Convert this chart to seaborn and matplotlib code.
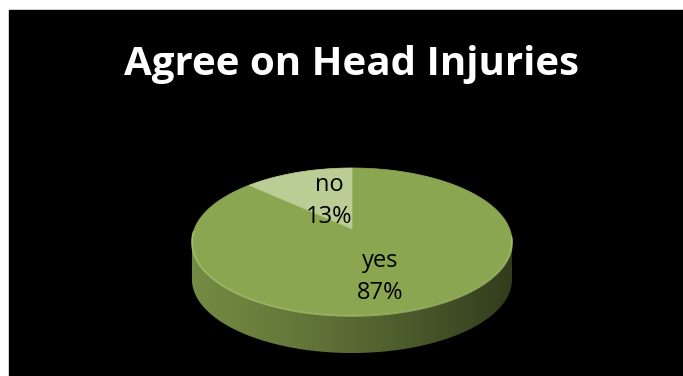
import numpy as np
import matplotlib
matplotlib.use("Agg")
import matplotlib.pyplot as plt
from matplotlib.patches import Polygon, Rectangle
from matplotlib.colors import to_rgb, LinearSegmentedColormap
import seaborn as sns

# Survey answers
categories = ["yes", "no"]
values = [87, 13]
slice_colors = ["#8aa650", "#bacd95"]
title = "Agree on Head Injuries"

sns.set_theme(style="white")
plt.rcParams["font.family"] = ["Open Sans", "DejaVu Sans"]

W, H = 683, 376
fig = plt.figure(figsize=(W / 100, H / 100), dpi=100, facecolor="white")
ax = fig.add_axes([0, 0, 1, 1])

# black panel
ax.add_patch(Rectangle((9, 10), W - 9, H - 10, color="black", zorder=0))

# 3-D disc geometry (pixel space, perspective tilt k)
cx, cy = 352.0, 229.0
A, B, k = 157.7, 71.4, 0.17
depth = 38.0


def project(theta_deg, r=1.0):
    t = np.radians(theta_deg)
    u = r * np.cos(t)
    v = -r * np.sin(t)
    w = 1.0 - k * v
    return cx + A * u / w, cy + B * v / w


fracs = np.array(values, dtype=float) / np.sum(values)
starts = 90.0 - 360.0 * np.concatenate([[0.0], np.cumsum(fracs)[:-1]])
ends = starts - 360.0 * fracs

# visible front band of the side wall
a = np.degrees(np.arcsin(k))
front_lo, front_hi = 180.0 + a, 360.0 - a

for s, e, col in zip(starts, ends, slice_colors):
    lo, hi = min(s, e), max(s, e)
    # bring the slice range into [0, 360) windows and intersect with the front
    for off in (-360.0, 0.0, 360.0):
        l2, h2 = max(lo + off, front_lo), min(hi + off, front_hi)
        if h2 <= l2:
            continue
        th = np.linspace(l2, h2, 200)
        xt, yt = project(th)
        xs = np.concatenate([xt, xt[::-1]])
        ys = np.concatenate([yt, (yt + depth)[::-1]])
        side = Polygon(np.column_stack([xs, ys]), closed=True,
                       facecolor="none", edgecolor="none", zorder=2)
        ax.add_patch(side)
        base = np.array(to_rgb(col))
        cmap = LinearSegmentedColormap.from_list(
            "wall", [base * 0.84, base * 0.72, base * 0.55, base * 0.36])
        grad = np.linspace(0, 1, 256).reshape(1, -1)
        x0, x1 = cx - A * 1.02, cx + A * 1.02
        im = ax.imshow(grad, cmap=cmap, extent=[x0, x1, cy + B * 2 + depth, cy - B],
                       aspect="auto", zorder=2, interpolation="bilinear")
        im.set_clip_path(side)

# top face wedges
for s, e, col in zip(starts, ends, slice_colors):
    th = np.linspace(s, e, 300)
    xr, yr = project(th)
    xs = np.concatenate([[cx], xr])
    ys = np.concatenate([[cy], yr])
    ax.add_patch(Polygon(np.column_stack([xs, ys]), closed=True,
                         facecolor=col, edgecolor=col, lw=0.5, zorder=3))

# soft highlight along the front rim of the top face
th = np.linspace(front_lo - 8, front_hi + 4, 300)
xr, yr = project(th)
ax.plot(xr, yr + 0.8, color="#b8d07e", lw=1.4, alpha=0.6, zorder=4,
        solid_capstyle="round")

# data labels
label_xy = {"yes": (380, 277), "no": (329, 201)}
for cat, frac in zip(categories, fracs):
    lx, ly = label_xy[cat]
    ax.text(lx, ly, f"{cat}\n{frac * 100:.0f}%", ha="center", va="center",
            fontsize=17, color="black", linespacing=1.4, zorder=5)

ax.text(351, 75, title, ha="center", va="baseline", fontsize=29,
        fontweight="bold", color="white", zorder=5)

ax.set_xlim(0, W)
ax.set_ylim(H, 0)
ax.axis("off")
fig.savefig("out.png", dpi=100, facecolor="white")
